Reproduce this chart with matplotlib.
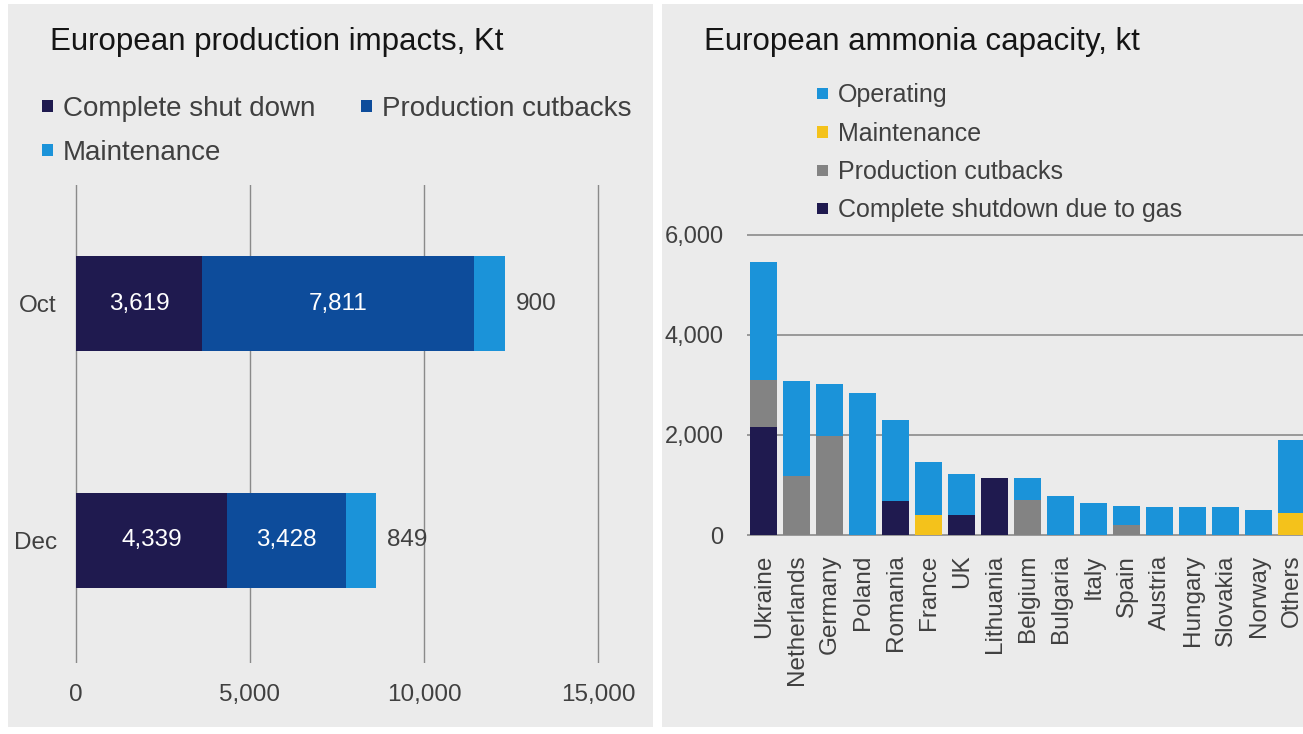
import matplotlib
matplotlib.use("Agg")
import matplotlib.pyplot as plt
from matplotlib.patches import Rectangle
import numpy as np

plt.rcParams['font.family'] = ['Liberation Sans', 'DejaVu Sans']

# ---------------- data ----------------
# Left chart: European production impacts, Kt
months = ['Dec', 'Oct']
impact_series = ['Complete shut down', 'Production cutbacks', 'Maintenance']
shutdown_kt = [4339, 3619]
cutbacks_kt = [3428, 7811]
maintenance_kt = [849, 900]
impact_ticks = [0, 5000, 10000, 15000]

# Right chart: European ammonia capacity, kt
countries = ['Ukraine', 'Netherlands', 'Germany', 'Poland', 'Romania', 'France', 'UK',
             'Lithuania', 'Belgium', 'Bulgaria', 'Italy', 'Spain', 'Austria', 'Hungary',
             'Slovakia', 'Norway', 'Others']
capacity_series = ['Operating', 'Maintenance', 'Production cutbacks', 'Complete shutdown due to gas']
cap_shutdown = [2170, 0, 0, 0, 690, 0, 400, 1140, 0, 0, 0, 0, 0, 0, 0, 0, 0]
cap_cutbacks = [940, 1185, 1975, 0, 0, 0, 0, 0, 700, 0, 0, 200, 0, 0, 0, 0, 0]
cap_maintenance = [0, 0, 0, 0, 0, 400, 0, 0, 0, 0, 0, 0, 0, 0, 0, 0, 440]
cap_operating = [2360, 1895, 1055, 2845, 1620, 1070, 825, 0, 440, 785, 635, 390, 560, 560, 560, 500, 1460]
capacity_ticks = [0, 2000, 4000, 6000]

# ---------------- styling ----------------
W, H = 1303, 734
DPI = 100
BG = '#ebebeb'
TXT = '#404040'
C_DARK = '#1f1a4f'
C_MID = '#0d4c9b'
C_LIGHT = '#1b93d9'
C_YEL = '#f4c21b'
C_GRAY = '#838383'
GRID = '#8a8a8a'


def fx(x):
    return x / W


def fy(y):
    return 1 - y / H


def axes_rect(left, top, right, bottom):
    return [fx(left), fy(bottom), (right - left) / W, (bottom - top) / H]


fig = plt.figure(figsize=(W / DPI, H / DPI), dpi=DPI, facecolor='white')

# panel backgrounds
fig.patches.append(Rectangle((fx(8), fy(727)), (653 - 8) / W, (727 - 4) / H,
                             transform=fig.transFigure, facecolor=BG, edgecolor='none', zorder=-5))
fig.patches.append(Rectangle((fx(662), fy(727)), (1303 - 662) / W, (727 - 4) / H,
                             transform=fig.transFigure, facecolor=BG, edgecolor='none', zorder=-5))


def legend_item(x_marker, y_center, size, color, label, fontsize):
    fig.patches.append(Rectangle((fx(x_marker), fy(y_center + size / 2)), size / W, size / H,
                                 transform=fig.transFigure, facecolor=color, edgecolor='none', zorder=2))
    em = fontsize * DPI / 72
    fig.text(fx(x_marker + 21), fy(y_center + 0.36 * em), label, fontsize=fontsize,
             color=TXT, va='baseline', ha='left')


# ---------------- left chart ----------------
fig.text(fx(50), fy(50), 'European production impacts, Kt', fontsize=22.5,
         color='#151515', va='baseline', ha='left')
left_colors = [C_DARK, C_MID, C_LIGHT]
legend_item(42, 106, 11, left_colors[0], impact_series[0], 20)
legend_item(361, 106, 11, left_colors[1], impact_series[1], 20)
legend_item(42, 150, 11, left_colors[2], impact_series[2], 20)

pxu = 174 / 5000.0
xl0, xl1 = -150, 15150
ax1 = fig.add_axes(axes_rect(76 + xl0 * pxu, 185, 76 + xl1 * pxu, 663))
ax1.set_zorder(1)
ax1.set_facecolor('none')
ypos = np.arange(len(months))
ax1.set_xlim(xl0, xl1)
ax1.set_ylim(-0.521, 1.504)
bh = 95 / 236
sd = np.array(shutdown_kt)
cb = np.array(cutbacks_kt)
mt = np.array(maintenance_kt)
ax1.barh(ypos, sd, height=bh, color=C_DARK, zorder=3)
ax1.barh(ypos, cb, left=sd, height=bh, color=C_MID, zorder=3)
ax1.barh(ypos, mt, left=sd + cb, height=bh, color=C_LIGHT, zorder=3)
for i in range(len(months)):
    ax1.text(sd[i] / 2, ypos[i], f'{sd[i]:,}', color='white', ha='center', va='center',
             fontsize=17.5, zorder=4)
    ax1.text(sd[i] + cb[i] / 2, ypos[i], f'{cb[i]:,}', color='white', ha='center', va='center',
             fontsize=17.5, zorder=4)
    ax1.annotate(f'{mt[i]:,}', (sd[i] + cb[i] + mt[i], ypos[i]), xytext=(8, 0),
                 textcoords='offset points', ha='left', va='center', fontsize=17.5,
                 color=TXT, zorder=4)
ax1.set_xticks(impact_ticks)
ax1.set_xticklabels([f'{t:,}' for t in impact_ticks])
ax1.set_yticks(ypos)
ax1.set_yticklabels(months)
ax1.tick_params(axis='x', length=0, pad=15, labelsize=17.5, labelcolor=TXT)
ax1.tick_params(axis='y', length=0, pad=10, labelsize=17.5, labelcolor=TXT)
ax1.grid(axis='x', color=GRID, linewidth=1.0, zorder=1)
ax1.grid(axis='y', visible=False)
ax1.set_axisbelow(True)
for s in ax1.spines.values():
    s.set_visible(False)

# ---------------- right chart ----------------
fig.text(fx(704), fy(50), 'European ammonia capacity, kt', fontsize=22.5,
         color='#151515', va='baseline', ha='left')
right_colors = [C_LIGHT, C_YEL, C_GRAY, C_DARK]
for k, (lab, col) in enumerate(zip(capacity_series, right_colors)):
    legend_item(817, [93, 132, 170, 208][k], 11, col, lab, 18)

pyu = 300 / 6000.0
yl0, yl1 = -60, 6100
ax2 = fig.add_axes(axes_rect(747, 535 - yl1 * pyu, 764 + 16.5 * 33, 535 - yl0 * pyu))
ax2.set_zorder(1)
ax2.set_facecolor('none')
xpos = np.arange(len(countries))
ax2.set_xlim(-0.515, 16.5)
ax2.set_ylim(yl0, yl1)
bw = 27 / 33
c_sd = np.array(cap_shutdown)
c_cb = np.array(cap_cutbacks)
c_mt = np.array(cap_maintenance)
c_op = np.array(cap_operating)
ax2.bar(xpos, c_sd, width=bw, color=C_DARK, zorder=3)
ax2.bar(xpos, c_cb, bottom=c_sd, width=bw, color=C_GRAY, zorder=3)
ax2.bar(xpos, c_mt, bottom=c_sd + c_cb, width=bw, color=C_YEL, zorder=3)
ax2.bar(xpos, c_op, bottom=c_sd + c_cb + c_mt, width=bw, color=C_LIGHT, zorder=3)
ax2.set_yticks(capacity_ticks)
ax2.set_yticklabels([f'{t:,}' for t in capacity_ticks])
ax2.set_xticks(xpos)
ax2.set_xticklabels(countries, rotation=90)
ax2.tick_params(axis='y', length=0, pad=17, labelsize=17, labelcolor=TXT)
ax2.tick_params(axis='x', length=0, pad=12, labelsize=17.5, labelcolor=TXT)
ax2.grid(axis='y', color=GRID, linewidth=1.2, zorder=1)
ax2.grid(axis='x', visible=False)
ax2.set_axisbelow(True)
for s in ax2.spines.values():
    s.set_visible(False)

fig.savefig('out.png', dpi=DPI, facecolor='white')
